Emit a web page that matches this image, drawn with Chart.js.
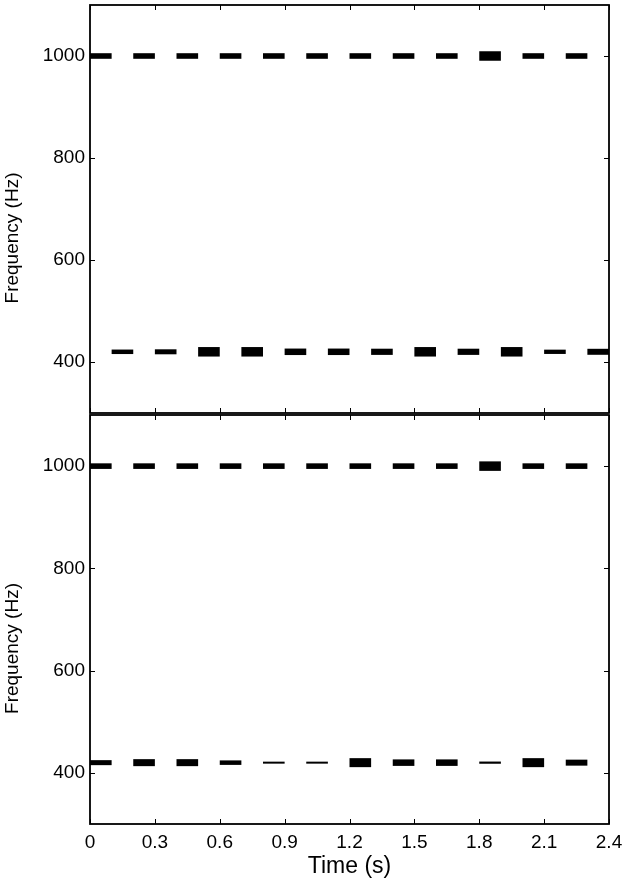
<!DOCTYPE html>
<html>
<head>
<meta charset="utf-8">
<script src="https://cdn.jsdelivr.net/npm/chart.js@4.4.1/dist/chart.umd.min.js"></script>
<style>
    html, body { margin: 0; padding: 0; background: #fff; }
    #wrap { position: relative; width: 628px; height: 886px; overflow: hidden; }
    #topBox { position: absolute; left: 0; top: 0; width: 628px; height: 420px; }
    #botBox { position: absolute; left: 0; top: 410px; width: 628px; height: 476px; }
</style>
</head>
<body>
<div id="wrap">
    <div id="topBox"><canvas id="topChart" width="628" height="420"></canvas></div>
    <div id="botBox"><canvas id="botChart" width="628" height="476"></canvas></div>
</div>
<script>
// Дані: тони (початок, с), частота (Гц), рівень (0..1)
const toneDur = 0.1;
const highFreq = 1000;
const lowFreq = 420;

const timeTicks = [0, 0.3, 0.6, 0.9, 1.2, 1.5, 1.8, 2.1, 2.4];
const freqTicks = [400, 600, 800, 1000];

// верхня панель
const topHighOnsets = [0, 0.2, 0.4, 0.6, 0.8, 1.0, 1.2, 1.4, 1.6, 1.8, 2.0, 2.2];
const topHighLevels = [0.56, 0.56, 0.56, 0.56, 0.56, 0.56, 0.56, 0.56, 0.56, 0.95, 0.56, 0.56];
const topLowOnsets  = [0.1, 0.3, 0.5, 0.7, 0.9, 1.1, 1.3, 1.5, 1.7, 1.9, 2.1, 2.3];
const topLowLevels  = [0.45, 0.5, 0.95, 0.95, 0.65, 0.65, 0.62, 0.95, 0.62, 0.95, 0.43, 0.6];

// нижня панель
const botHighOnsets = [0, 0.2, 0.4, 0.6, 0.8, 1.0, 1.2, 1.4, 1.6, 1.8, 2.0, 2.2];
const botHighLevels = [0.56, 0.56, 0.56, 0.56, 0.56, 0.56, 0.56, 0.56, 0.56, 0.95, 0.56, 0.56];
const botLowOnsets  = [0, 0.2, 0.4, 0.6, 0.8, 1.0, 1.2, 1.4, 1.6, 1.8, 2.0, 2.2];
const botLowLevels  = [0.5, 0.7, 0.7, 0.45, 0.2, 0.2, 0.9, 0.65, 0.65, 0.22, 0.9, 0.6];

Chart.defaults.font.family = "'Liberation Sans', Arial, sans-serif";
Chart.defaults.font.size = 19;
Chart.defaults.color = '#000';

// кожен тон — окремий відрізок, товщина за рівнем
function toneSets(onsets, levels, freq) {
    return onsets.map((t, i) => ({
        data: [{ x: t, y: freq }, { x: t + toneDur, y: freq }],
        borderColor: '#000',
        borderWidth: levels[i] * 10,
        borderCapStyle: 'butt',
        pointRadius: 0,
        fill: false,
        tension: 0
    }));
}

// рамка, внутрішні поділки і підпис осі Y
const framePlugin = {
    id: 'frame',
    afterDraw(chart) {
        const { ctx, chartArea: a, scales } = chart;
        ctx.save();
        ctx.strokeStyle = '#000';
        ctx.lineWidth = 1;
        ctx.beginPath();
        timeTicks.forEach(v => {
            const px = Math.round(scales.x.getPixelForValue(v)) + 0.5;
            ctx.moveTo(px, a.bottom); ctx.lineTo(px, a.bottom - 5);
            ctx.moveTo(px, a.top); ctx.lineTo(px, a.top + 5);
        });
        freqTicks.forEach(v => {
            const py = Math.round(scales.y.getPixelForValue(v)) + 0.5;
            ctx.moveTo(a.left, py); ctx.lineTo(a.left + 5, py);
            ctx.moveTo(a.right, py); ctx.lineTo(a.right - 5, py);
        });
        ctx.stroke();
        ctx.lineWidth = 1.8;
        ctx.strokeRect(a.left, a.top, a.right - a.left, a.bottom - a.top);

        ctx.translate(13, (a.top + a.bottom) / 2 + 29);
        ctx.rotate(-Math.PI / 2);
        ctx.font = "19px 'Liberation Sans', Arial, sans-serif";
        ctx.fillStyle = '#000';
        ctx.textAlign = 'center';
        ctx.textBaseline = 'middle';
        ctx.fillText('Frequency (Hz)', 0, 0);
        ctx.restore();
    }
};

function yScale() {
    return {
        type: 'linear',
        min: 300,
        max: 1100,
        afterBuildTicks: s => { s.ticks = freqTicks.map(v => ({ value: v })); },
        afterFit: s => { s.width = 90; s.paddingTop = 0; s.paddingBottom = 0; },
        grid: { display: false, drawTicks: false },
        border: { display: false },
        ticks: { padding: 5, callback: v => String(v) }
    };
}

function makeChart(id, sets, bottom) {
    const xScale = {
        type: 'linear',
        min: 0,
        max: 2.4,
        display: bottom,
        afterBuildTicks: s => { s.ticks = timeTicks.map(v => ({ value: v })); },
        grid: { display: false, drawTicks: false },
        border: { display: false },
        ticks: { padding: 7, maxRotation: 0, autoSkip: false, callback: v => String(v) },
        title: { display: bottom, text: 'Time (s)', font: { size: 23 }, padding: { top: 0, bottom: 6 } }
    };
    if (bottom) xScale.afterFit = s => { s.height = 62; s.paddingLeft = 0; s.paddingRight = 0; };
    return new Chart(document.getElementById(id).getContext('2d'), {
        type: 'line',
        data: { datasets: sets },
        options: {
            responsive: false,
            animation: false,
            devicePixelRatio: 1,
            layout: { padding: { top: 5, right: 19, bottom: bottom ? 0 : 7, left: 0 } },
            scales: { x: xScale, y: yScale() },
            plugins: { legend: { display: false }, tooltip: { enabled: false } }
        },
        plugins: [framePlugin]
    });
}

const topChart = makeChart('topChart',
    toneSets(topHighOnsets, topHighLevels, highFreq).concat(toneSets(topLowOnsets, topLowLevels, lowFreq)), false);
const botChart = makeChart('botChart',
    toneSets(botHighOnsets, botHighLevels, highFreq).concat(toneSets(botLowOnsets, botLowLevels, lowFreq)), true);
</script>
</body>
</html>
